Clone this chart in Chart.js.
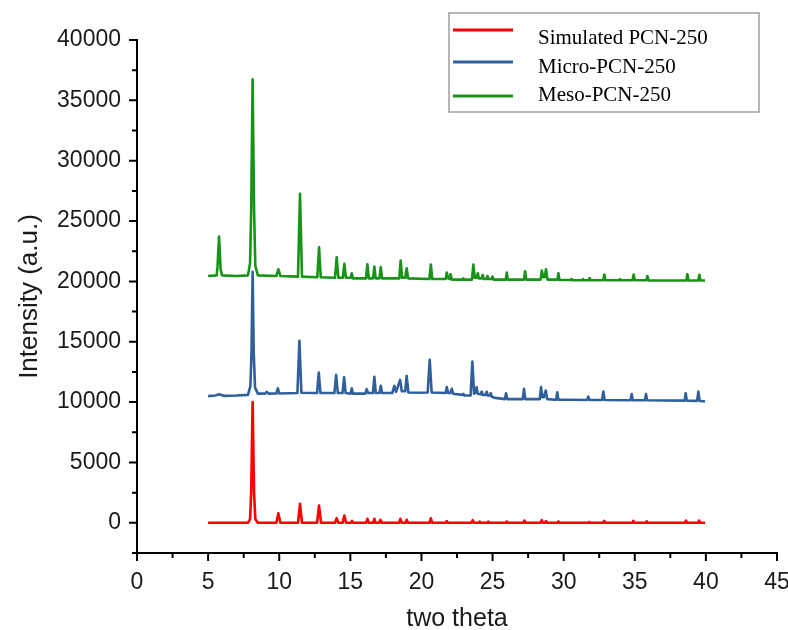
<!DOCTYPE html>
<html>
<head>
<meta charset="utf-8">
<title>PCN-250 PXRD</title>
<script src="https://cdn.jsdelivr.net/npm/chart.js@4.4.1/dist/chart.umd.min.js"></script>
<style>
  html, body { margin: 0; padding: 0; background: #fff; }
</style>
</head>
<body>
<canvas id="xrd" width="788" height="630"></canvas>
<script>
// axis tick values
const xTicks = [0, 5, 10, 15, 20, 25, 30, 35, 40, 45];
const yTicks = [0, 5000, 10000, 15000, 20000, 25000, 30000, 35000, 40000];

const seriesNames = ['Simulated PCN-250', 'Micro-PCN-250', 'Meso-PCN-250'];
const seriesColors = ['#ff0000', '#30609c', '#179417'];

// [two theta, intensity]
const simulated = [
  [5.0, 0], [7.8, 0], [7.95, 300], [8.03, 2500], [8.13, 10000], [8.23, 2500], [8.32, 300], [8.5, 0],
  [9.8, 0], [9.94, 800], [10.08, 0],
  [11.32, 0], [11.46, 1570], [11.6, 0],
  [12.66, 0], [12.8, 1430], [12.94, 0],
  [13.92, 0], [14.04, 390], [14.16, 0],
  [14.46, 0], [14.58, 600], [14.7, 0],
  [15.04, 0], [15.12, 160], [15.2, 0],
  [16.1, 0], [16.2, 330], [16.3, 0],
  [16.6, 0], [16.69, 330], [16.78, 0],
  [17.02, 0], [17.12, 250], [17.22, 0],
  [18.42, 0], [18.52, 330], [18.62, 0],
  [18.88, 0], [18.96, 250], [19.06, 0],
  [20.56, 0], [20.66, 380], [20.76, 0],
  [21.7, 0], [21.78, 150], [21.86, 0],
  [23.52, 0], [23.6, 220], [23.68, 0],
  [24.05, 0], [24.1, 100], [24.15, 0],
  [24.64, 0], [24.7, 100], [24.76, 0],
  [25.93, 0], [26.0, 110], [26.07, 0],
  [27.16, 0], [27.24, 190], [27.32, 0],
  [28.38, 0], [28.46, 220], [28.54, 0],
  [28.68, 0], [28.76, 150], [28.84, 0],
  [29.56, 0], [29.63, 110], [29.7, 0],
  [31.74, 0], [31.8, 80], [31.86, 0],
  [32.78, 0], [32.86, 160], [32.94, 0],
  [34.82, 0], [34.9, 160], [34.98, 0],
  [35.77, 0], [35.84, 130], [35.91, 0],
  [38.52, 0], [38.6, 190], [38.68, 0],
  [39.44, 0], [39.52, 190], [39.6, 0],
  [39.94, 0]
];

const micro = [
  [5.0, 10500], [5.5, 10550], [5.77, 10650], [6.1, 10520], [7.0, 10550], [7.8, 10600],
  [7.97, 11300], [8.05, 14000], [8.13, 20800], [8.21, 14000], [8.3, 11200], [8.5, 10700],
  [9.0, 10700], [9.12, 10850], [9.25, 10700], [9.8, 10720], [9.9, 11150], [10.0, 10720],
  [11.28, 10750], [11.42, 15070], [11.56, 10780],
  [12.66, 10750], [12.78, 12450], [12.9, 10750],
  [13.88, 10750], [14.0, 12260], [14.12, 10750],
  [14.45, 10750], [14.56, 12060], [14.67, 10750],
  [15.02, 10700], [15.1, 11150], [15.18, 10700],
  [16.05, 10700], [16.15, 11070], [16.25, 10750],
  [16.59, 10750], [16.69, 12090], [16.79, 10750],
  [17.05, 10750], [17.14, 11350], [17.23, 10750],
  [17.95, 10750], [18.09, 11350], [18.22, 10850], [18.5, 11840], [18.62, 10900],
  [18.86, 10900], [18.96, 12170], [19.08, 10800],
  [20.0, 10780], [20.44, 10800], [20.58, 13500], [20.72, 10800],
  [21.7, 10750], [21.78, 11240], [21.88, 10750], [22.03, 10750], [22.13, 11100], [22.23, 10700],
  [22.88, 10600], [22.95, 10680], [23.02, 10550],
  [23.46, 10550], [23.58, 13360], [23.7, 10700], [23.8, 10800], [23.88, 11240], [23.96, 10700],
  [24.17, 10650], [24.24, 10870], [24.31, 10600], [24.52, 10600], [24.59, 10850], [24.66, 10550],
  [24.8, 10550], [24.87, 10740], [24.94, 10450], [25.2, 10350],
  [25.87, 10250], [25.95, 10740], [26.03, 10250],
  [27.12, 10250], [27.21, 11100], [27.3, 10250],
  [28.32, 10250], [28.41, 11240], [28.5, 10400], [28.6, 10400], [28.74, 10960], [28.84, 10250],
  [29.47, 10200], [29.55, 10820], [29.63, 10200],
  [30.5, 10200], [31.65, 10180], [31.73, 10460], [31.81, 10180],
  [32.7, 10180], [32.79, 10870], [32.88, 10180],
  [34.7, 10150], [34.78, 10660], [34.86, 10150],
  [35.71, 10150], [35.79, 10660], [35.87, 10150],
  [38.5, 10120], [38.58, 10740], [38.66, 10120],
  [39.38, 10100], [39.47, 10870], [39.56, 10100],
  [39.94, 10050]
];

const meso = [
  [5.0, 20450], [5.6, 20500], [5.66, 21200], [5.77, 23710], [5.88, 21000], [5.98, 20500],
  [7.0, 20450], [7.8, 20500], [7.95, 21500], [8.03, 26000], [8.13, 36750], [8.23, 26000],
  [8.32, 21300], [8.5, 20500],
  [9.8, 20450], [9.94, 21010], [10.08, 20450],
  [11.32, 20400], [11.46, 27250], [11.6, 20400],
  [12.68, 20350], [12.8, 22830], [12.92, 20350],
  [13.92, 20300], [14.04, 22000], [14.16, 20300],
  [14.47, 20300], [14.58, 21450], [14.69, 20300],
  [15.02, 20300], [15.1, 20680], [15.18, 20250],
  [16.1, 20250], [16.2, 21420], [16.3, 20250],
  [16.6, 20250], [16.69, 21230], [16.78, 20250],
  [17.05, 20250], [17.14, 21180], [17.23, 20250],
  [18.44, 20250], [18.54, 21730], [18.64, 20300],
  [18.86, 20300], [18.96, 21090], [19.06, 20250],
  [20.56, 20200], [20.66, 21390], [20.76, 20200],
  [21.7, 20200], [21.78, 20730], [21.88, 20250], [21.98, 20200], [22.05, 20600], [22.13, 20150],
  [22.9, 20150], [22.95, 20250], [23.0, 20150],
  [23.55, 20150], [23.65, 21390], [23.75, 20300], [23.88, 20300], [23.96, 20680], [24.04, 20250],
  [24.24, 20250], [24.31, 20540], [24.38, 20200], [24.57, 20200], [24.64, 20450], [24.71, 20200],
  [24.93, 20200], [25.0, 20400], [25.07, 20150],
  [25.93, 20150], [26.0, 20730], [26.07, 20150],
  [27.21, 20150], [27.29, 20840], [27.37, 20150],
  [28.38, 20150], [28.46, 20900], [28.56, 20350], [28.66, 20350], [28.76, 21010], [28.86, 20150],
  [29.56, 20150], [29.63, 20680], [29.7, 20120],
  [30.5, 20120], [30.55, 20200], [30.6, 20100], [31.3, 20100], [31.35, 20200], [31.4, 20100],
  [31.75, 20100], [31.8, 20250], [31.85, 20100],
  [32.78, 20100], [32.86, 20570], [32.94, 20100],
  [33.9, 20100], [33.95, 20200], [34.0, 20100],
  [34.84, 20100], [34.92, 20570], [35.0, 20100],
  [35.81, 20100], [35.89, 20450], [35.97, 20080],
  [38.62, 20080], [38.7, 20600], [38.78, 20080],
  [39.46, 20080], [39.54, 20550], [39.62, 20080],
  [39.94, 20070]
];

const patterns = [simulated, micro, meso];

const sans = '"Liberation Sans", Arial, sans-serif';
const serif = '"Liberation Serif", "Times New Roman", serif';

// major ticks carry labels, minor ticks sit halfway between them
const xMinor = xTicks.slice(0, -1).map(v => v + 2.5);
const yMinor = [-2500].concat(yTicks.slice(0, -1).map(v => v + 2500));

const axisTicks = {
  id: 'axisTicks',
  afterDraw(chart) {
    const { ctx, scales: { x, y } } = chart;
    ctx.save();
    ctx.strokeStyle = '#000';
    ctx.lineWidth = 2;
    ctx.beginPath();
    xTicks.forEach(v => { const p = x.getPixelForValue(v); ctx.moveTo(p, x.top); ctx.lineTo(p, x.top + 8); });
    xMinor.forEach(v => { const p = x.getPixelForValue(v); ctx.moveTo(p, x.top); ctx.lineTo(p, x.top + 5); });
    yTicks.forEach(v => { const p = y.getPixelForValue(v); ctx.moveTo(y.right, p); ctx.lineTo(y.right - 8, p); });
    yMinor.forEach(v => { const p = y.getPixelForValue(v); ctx.moveTo(y.right, p); ctx.lineTo(y.right - 5, p); });
    ctx.stroke();
    ctx.restore();
  }
};

const boxLegend = {
  id: 'boxLegend',
  afterDraw(chart) {
    const ctx = chart.ctx;
    ctx.save();
    ctx.fillStyle = '#fff';
    ctx.fillRect(449, 13, 310, 99);
    ctx.strokeStyle = '#a0a0a0';
    ctx.lineWidth = 1.5;
    ctx.strokeRect(449, 13, 310, 99);
    const lineY = [30, 62, 96];
    const textY = [38, 67, 95];
    ctx.font = '21px ' + serif;
    ctx.textBaseline = 'middle';
    chart.data.datasets.forEach((ds, i) => {
      ctx.strokeStyle = ds.borderColor;
      ctx.lineWidth = 3;
      ctx.beginPath();
      ctx.moveTo(453, lineY[i]);
      ctx.lineTo(513, lineY[i]);
      ctx.stroke();
      ctx.fillStyle = '#000';
      ctx.fillText(ds.label, 538, textY[i]);
    });
    ctx.restore();
  }
};

new Chart(document.getElementById('xrd'), {
  type: 'line',
  data: {
    datasets: patterns.map((pts, i) => ({
      label: seriesNames[i],
      data: pts.map(p => ({ x: p[0], y: p[1] })),
      borderColor: seriesColors[i],
      borderWidth: 2.6,
      borderJoinStyle: 'round',
      pointRadius: 0,
      tension: 0,
      fill: false,
      order: 3 - i
    }))
  },
  options: {
    responsive: false,
    animation: false,
    layout: { padding: { top: 40, right: 11, left: 0, bottom: 0 } },
    plugins: { legend: { display: false }, tooltip: { enabled: false } },
    scales: {
      x: {
        type: 'linear',
        min: 0,
        max: 45,
        afterBuildTicks: s => { s.ticks = xTicks.map(v => ({ value: v })); },
        afterFit: s => { s.height = 77; s.paddingLeft = 0; s.paddingRight = 0; },
        grid: { display: false },
        border: { display: true, color: '#000', width: 2 },
        ticks: {
          autoSkip: false,
          maxRotation: 0,
          padding: 8,
          color: '#1a1a1a',
          font: { family: sans, size: 23 },
          callback: v => String(v)
        },
        title: {
          display: true,
          text: 'two theta',
          color: '#1a1a1a',
          font: { family: sans, size: 25 },
          padding: { top: 0, bottom: -4 }
        }
      },
      y: {
        type: 'linear',
        min: -2500,
        max: 40000,
        afterBuildTicks: s => { s.ticks = yTicks.map(v => ({ value: v })); },
        afterFit: s => { s.width = 137; s.paddingTop = 0; s.paddingBottom = 0; },
        grid: { display: false },
        border: { display: true, color: '#000', width: 2 },
        ticks: {
          autoSkip: false,
          padding: 8,
          color: '#1a1a1a',
          font: { family: sans, size: 23 },
          callback: v => String(v)
        },
        title: {
          display: true,
          text: 'Intensity (a.u.)',
          color: '#1a1a1a',
          font: { family: sans, size: 26 },
          padding: { top: 14, bottom: 0 }
        }
      }
    }
  },
  plugins: [axisTicks, boxLegend]
});
</script>
</body>
</html>
